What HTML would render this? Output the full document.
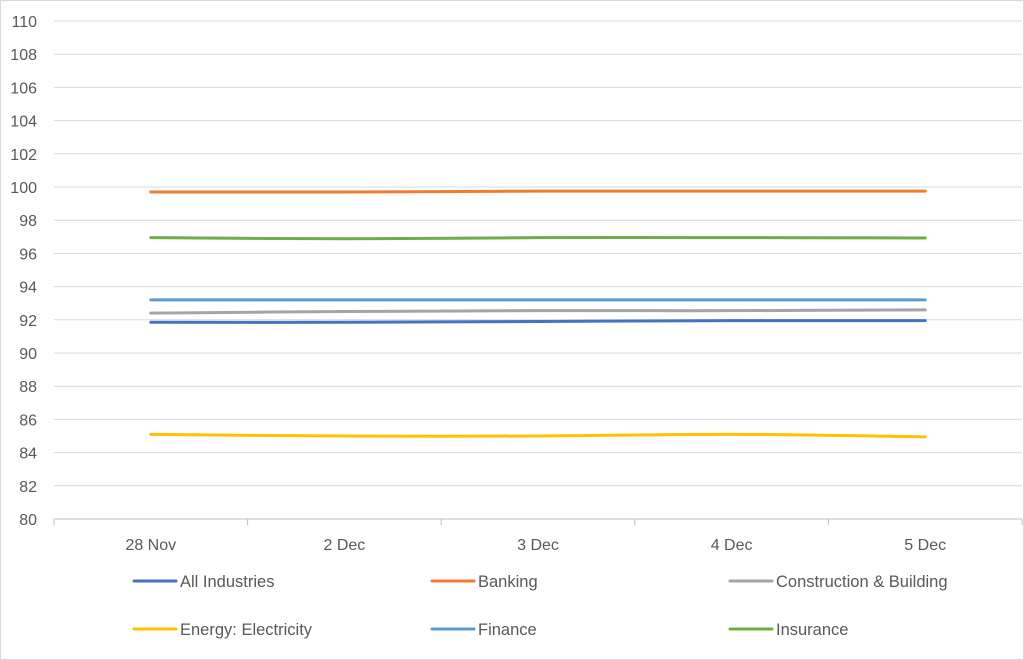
<!DOCTYPE html>
<html><head><meta charset="utf-8"><style>
body{margin:0;background:#fff;}
svg{display:block;font-family:"Liberation Sans",sans-serif;}
</style></head><body>
<svg id="chart" width="1024" height="660">
<rect x="0.5" y="0.5" width="1023" height="659" fill="#fff" stroke="#d9d9d9"/>
<g id="grid"></g><g id="ylab"></g><g id="xlab"></g><g id="lines"></g><g id="legend"></g>
</svg>
<script>
const categories=["28 Nov","2 Dec","3 Dec","4 Dec","5 Dec"];
const yTicks=[80,82,84,86,88,90,92,94,96,98,100,102,104,106,108,110];
const seriesNames=["All Industries","Banking","Construction & Building","Energy: Electricity","Finance","Insurance"];
const seriesColors=["#4472c4","#ed7d31","#a5a5a5","#ffc000","#5b9bd5","#70ad47"];
const allIndustries=[91.85,91.85,91.9,91.95,91.95];
const banking=[99.7,99.7,99.75,99.75,99.75];
const construction=[92.4,92.5,92.55,92.55,92.6];
const energy=[85.1,85.0,85.0,85.1,84.95];
const finance=[93.2,93.2,93.2,93.2,93.2];
const insurance=[96.95,96.88,96.95,96.95,96.93];
const seriesData=[allIndustries,banking,construction,energy,finance,insurance];

const NS="http://www.w3.org/2000/svg";
const L=54,R=1022,T=21,B=519,yMin=80,yMax=110;
const bw=(R-L)/categories.length;
const xs=i=>L+bw*(i+0.5);
const ys=v=>B-(v-yMin)/(yMax-yMin)*(B-T);
function mk(tag,attrs,parent){const e=document.createElementNS(NS,tag);for(const k in attrs)e.setAttribute(k,attrs[k]);parent.appendChild(e);return e;}
const grid=document.getElementById('grid'),ylab=document.getElementById('ylab'),xlab=document.getElementById('xlab'),lines=document.getElementById('lines'),legend=document.getElementById('legend');
yTicks.forEach(t=>{
 const y=ys(t);
 const g=mk('line',{x1:L,x2:R,y1:y,y2:y,stroke:t===yMin?'#bfbfbf':'#d9d9d9','stroke-width':1},grid);
 
 
 const tx=mk('text',{x:37,y:y+6,'text-anchor':'end','font-size':16,fill:'#595959'},ylab);
 tx.textContent=t;
 
 
});
categories.forEach((c,i)=>{
 const x0=L+bw*i;
 const tk=mk('line',{x1:x0,x2:x0,y1:B,y2:B+6,stroke:'#bfbfbf'},grid);
 
 
 const tx=mk('text',{x:xs(i),y:550,'text-anchor':'middle','font-size':16,fill:'#595959'},xlab);
 tx.textContent=c;
 
 
});
const tkE=mk('line',{x1:R,x2:R,y1:B,y2:B+6,stroke:'#bfbfbf'},grid);


function smooth(pts){
 let d=`M${pts[0][0]},${pts[0][1]}`;
 for(let i=0;i<pts.length-1;i++){
  const p0=pts[i-1]||pts[i],p1=pts[i],p2=pts[i+1],p3=pts[i+2]||p2;
  const c1=[p1[0]+(p2[0]-p0[0])/6,p1[1]+(p2[1]-p0[1])/6];
  const c2=[p2[0]-(p3[0]-p1[0])/6,p2[1]-(p3[1]-p1[1])/6];
  d+=` C${c1[0]},${c1[1]} ${c2[0]},${c2[1]} ${p2[0]},${p2[1]}`;
 }
 return d;
}
seriesData.forEach((arr,s)=>{
 const pts=arr.map((v,i)=>[xs(i),ys(v)]);
 const p=mk('path',{d:smooth(pts),fill:'none',stroke:seriesColors[s],'stroke-width':3,'stroke-linecap':'round'},lines);
 
 
});
seriesNames.forEach((n,s)=>{
 const col=s%3,row=Math.floor(s/3);
 const x=134+col*298,y=581+row*48;
 const g=mk('g',{},legend);
 
 
 mk('line',{x1:x,x2:x+42,y1:y,y2:y,stroke:seriesColors[s],'stroke-width':3,'stroke-linecap':'round'},g);
 const t=mk('text',{x:x+46,y:y+6,'font-size':16.5,fill:'#595959'},g);
 t.textContent=n;
});
</script>
</body></html>
